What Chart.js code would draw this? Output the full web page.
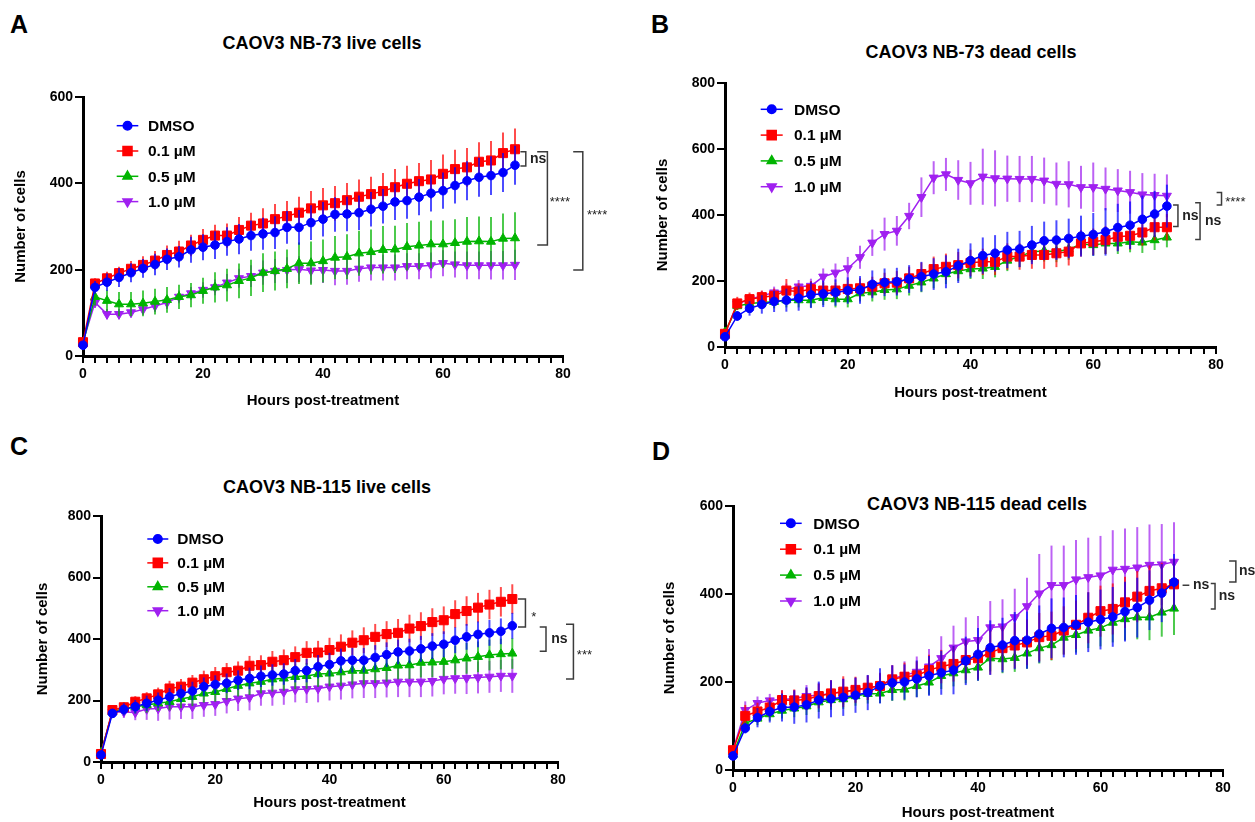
<!DOCTYPE html>
<html><head><meta charset="utf-8">
<script src="https://cdn.jsdelivr.net/npm/chart.js"></script>
<style>
html,body{margin:0;padding:0;background:#fff;}
body{width:1255px;height:822px;position:relative;overflow:hidden;font-family:"Liberation Sans",Arial,sans-serif;}
canvas{position:absolute;}
.letter{position:absolute;font-weight:bold;font-size:25px;line-height:28px;color:#000;}
.title{position:absolute;width:400px;text-align:center;font-weight:bold;font-size:18px;line-height:20px;color:#000;white-space:nowrap;}
</style></head><body>
<div class="letter" style="left:10px;top:10px">A</div>
<div class="letter" style="left:651px;top:10px">B</div>
<div class="letter" style="left:10px;top:432px">C</div>
<div class="letter" style="left:652px;top:437px">D</div>
<div class="title" style="left:122px;top:33px">CAOV3 NB-73 live cells</div>
<div class="title" style="left:771px;top:42px">CAOV3 NB-73 dead cells</div>
<div class="title" style="left:127px;top:477px">CAOV3 NB-115 live cells</div>
<div class="title" style="left:777px;top:494px">CAOV3 NB-115 dead cells</div>
<canvas id="cA" width="613" height="350" style="left:12px;top:60px"></canvas>
<canvas id="cB" width="601" height="342" style="left:654px;top:60px"></canvas>
<canvas id="cC" width="591" height="332" style="left:34px;top:480px"></canvas>
<canvas id="cD" width="594" height="342" style="left:661px;top:480px"></canvas>
<script>
// ---------- data ----------
const hours = [0,2,4,6,8,10,12,14,16,18,20,22,24,26,28,30,32,34,36,38,40,42,44,46,48,50,52,54,56,58,60,62,64,66,68,70,72];
const seriesLabels = ['DMSO','0.1 µM','0.5 µM','1.0 µM'];
const xMajorTicks = [0,20,40,60,80];
const panelTitles = ['CAOV3 NB-73 live cells','CAOV3 NB-73 dead cells','CAOV3 NB-115 live cells','CAOV3 NB-115 dead cells'];
const xAxisTitle = 'Hours post-treatment';
const yAxisTitle = 'Number of cells';

// Panel A: NB-73 live
const aDmso = [25,159,171,182,193,203,212,224,230,246,252,257,265,271,279,283,286,298,298,309,317,328,329,332,340,347,357,360,368,377,383,395,406,414,418,425,442];
const aDmsoErr = [10,15,20,22,22,22,25,25,25,30,30,32,33,35,35,37,38,38,40,40,40,40,40,40,40,40,42,42,42,42,42,42,45,45,45,45,45];
const aLow = [32,168,180,192,202,211,221,234,242,256,269,279,279,292,302,307,317,324,332,342,349,354,361,369,375,382,391,399,405,409,422,433,437,450,453,470,479];
const aLowErr = [8,12,15,15,18,20,22,22,25,25,25,25,28,30,30,35,35,35,37,40,40,40,40,40,40,42,42,42,42,45,45,45,45,45,45,48,48];
const aMid = [30,137,128,120,120,122,126,130,137,141,151,159,164,174,181,193,197,202,215,215,220,228,230,238,241,246,247,253,256,259,259,262,265,266,265,272,273];
const aMidErr = [10,20,25,28,28,30,30,30,28,28,30,35,38,40,42,45,45,45,48,50,50,50,52,52,52,55,55,55,55,55,55,55,57,57,57,58,60];
const aHigh = [33,124,97,97,101,108,116,124,137,145,153,159,170,180,185,193,197,199,201,198,199,197,197,202,205,205,205,208,208,210,215,212,210,210,210,210,211];
const aHighErr = [8,12,12,12,12,12,14,15,15,15,18,18,20,22,25,28,28,30,30,30,30,33,32,30,30,30,30,30,30,30,30,30,32,32,33,33,35];

// Panel B: NB-73 dead
const bDmso = [31,94,117,129,138,142,148,158,161,165,171,173,190,196,198,206,213,221,228,246,262,277,284,294,297,309,322,324,329,336,341,349,362,369,387,403,427];
const bDmsoErr = [10,15,22,28,32,35,38,40,40,40,40,42,42,42,42,42,45,48,50,52,52,55,55,55,55,58,58,60,60,62,65,72,72,72,72,70,65];
const bLow = [40,132,145,151,155,171,168,175,171,171,176,178,183,193,195,208,221,236,243,248,255,258,258,274,274,279,279,284,289,314,319,324,334,337,347,363,363];
const bLowErr = [10,20,20,20,22,35,25,25,25,25,28,30,30,32,35,35,35,38,40,40,40,40,40,40,40,42,42,42,42,40,40,42,42,42,40,40,40];
const bMid = [45,124,132,135,137,142,142,142,149,145,145,163,166,173,175,186,196,208,221,230,236,238,243,262,274,289,291,289,296,312,309,314,314,319,317,324,332];
const bMidErr = [10,12,15,18,20,22,22,22,22,25,25,25,28,30,30,30,30,30,30,30,30,32,32,32,32,32,32,32,32,32,32,32,32,32,32,30,30];
const bHigh = [40,130,145,155,165,172,183,185,213,225,238,272,316,342,352,397,454,513,523,506,496,516,511,510,509,509,504,494,493,484,484,479,474,469,462,460,458];
const bHighErr = [10,15,15,15,18,20,20,22,25,28,35,35,40,50,45,40,60,50,50,60,65,85,85,70,70,70,70,65,70,65,75,65,65,65,65,65,65];

// Panel C: NB-115 live
const cDmso = [23,158,171,180,191,201,212,223,231,245,252,256,266,272,279,283,286,297,297,310,317,329,331,331,340,349,358,361,368,377,383,396,407,415,420,425,443];
const cDmsoErr = [8,15,20,22,25,25,28,28,30,30,30,32,32,35,35,35,35,38,38,38,38,40,40,40,40,40,40,40,42,42,42,42,42,42,42,42,42];
const cLow = [26,169,178,196,207,220,239,245,258,269,279,292,297,313,315,326,331,341,355,356,364,375,388,396,407,416,420,434,442,455,461,481,491,502,512,521,530];
const cLowErr = [8,12,15,18,20,22,25,25,25,28,30,30,30,32,32,35,35,35,38,38,40,40,40,42,42,42,45,45,45,45,45,45,48,48,48,48,48];
const cMid = [30,163,174,180,185,191,196,205,212,223,228,238,248,256,261,269,272,277,280,286,288,292,297,297,302,306,314,315,323,324,326,331,337,342,348,351,353];
const cMidErr = [10,20,20,22,25,25,28,30,30,30,32,35,35,38,38,40,40,40,42,42,42,45,45,45,45,45,45,45,48,48,48,48,50,50,50,50,50];
const cHigh = [30,163,163,161,172,174,180,180,180,185,188,198,206,210,223,225,228,236,237,239,245,248,252,256,256,258,261,261,261,263,270,272,273,275,277,280,280];
const cHighErr = [8,20,20,25,35,40,42,40,40,38,38,40,40,42,40,42,42,42,45,45,45,45,45,48,48,48,50,50,50,50,50,50,52,52,52,52,55];

// Panel D: NB-115 dead
const dDmso = [32,95,119,133,142,143,148,159,162,165,170,176,191,198,200,207,214,221,227,248,263,278,284,294,295,309,322,324,330,336,342,348,360,369,386,402,427];
const dDmsoErr = [8,12,22,25,32,38,40,42,42,42,40,40,40,40,40,42,45,50,55,55,60,62,62,65,65,65,68,68,68,68,68,68,68,68,68,66,64];
const dLow = [45,123,133,142,159,158,161,168,174,178,182,187,191,206,212,215,227,235,241,250,254,267,277,283,290,302,305,317,330,346,361,366,381,394,407,413,422];
const dLowErr = [8,25,20,22,22,25,25,28,30,35,30,28,30,32,32,32,35,38,40,45,48,50,50,52,52,55,55,55,55,58,58,58,58,58,58,58,58];
const dMid = [35,106,117,127,135,140,145,154,159,161,168,173,174,182,183,191,199,214,220,227,233,254,252,255,265,277,284,301,307,317,323,335,343,347,347,358,367];
const dMidErr = [8,12,15,15,18,20,20,22,22,22,22,22,22,25,25,25,28,30,30,30,30,30,32,32,35,35,35,38,40,40,42,45,48,50,52,55,60];
const dHigh = [45,136,152,158,161,162,168,170,174,178,182,187,191,208,215,223,235,254,278,292,295,324,326,347,372,401,420,420,433,438,442,455,457,460,466,467,473];
const dHighErr = [8,20,15,15,20,20,25,28,30,30,28,28,28,30,32,35,40,50,50,55,55,60,62,65,65,90,90,90,90,90,90,90,92,92,92,92,90];

// significance annotations: [label, y top, y bottom]
const aSig = [['ns',473,440],['****',473,257],['****',473,199]];
const bSig = [['****',468,430],['ns',430,365],['ns',437,326]];
const cSig = [['*',530,439],['ns',439,360],['***',448,270]];
const dSig = [['ns',420,420],['ns',424,366],['ns',475,427]];

// ---------- styling ----------
const FONT = '"Liberation Sans", Arial, sans-serif';
const styles = [
  {color:'#0000ff', err:'rgba(0,0,255,0.7)', pointStyle:'circle', radius:4.3, rotation:0},
  {color:'#ff0000', err:'rgba(255,0,0,0.7)', pointStyle:'rect', radius:6.4, rotation:0},
  {color:'#00b400', err:'rgba(0,180,0,0.7)', pointStyle:'triangle', radius:5.2, rotation:0},
  {color:'#a020f0', err:'rgba(160,32,240,0.7)', pointStyle:'triangle', radius:5.2, rotation:180}
];

const errorBarPlugin = {
  id:'errorBars',
  beforeDatasetDraw(chart, args){
    const ds = chart.data.datasets[args.index];
    const ys = chart.scales.y, xs = chart.scales.x;
    const ctx = chart.ctx;
    ctx.save();
    ctx.strokeStyle = ds.errColor;
    ctx.lineWidth = 2;
    ds.data.forEach((pt, i) => {
      const e = ds.errors[i];
      const x = xs.getPixelForValue(pt.x);
      ctx.beginPath();
      ctx.moveTo(x, ys.getPixelForValue(pt.y + e));
      ctx.lineTo(x, ys.getPixelForValue(Math.max(0, pt.y - e)));
      ctx.stroke();
    });
    ctx.restore();
  }
};

const legendPlugin = {
  id:'innerLegend',
  afterDraw(chart){
    const o = chart.options.plugins.innerLegend;
    const ca = chart.chartArea, ctx = chart.ctx;
    ctx.save();
    chart.data.datasets.forEach((ds, i) => {
      const y = ca.top + o.y0 + i * o.gap;
      const st = styles[i];
      ctx.strokeStyle = st.color; ctx.fillStyle = st.color; ctx.lineWidth = 1.5;
      ctx.beginPath(); ctx.moveTo(ca.left + o.l0, y); ctx.lineTo(ca.left + o.l1, y); ctx.stroke();
      Chart.helpers.drawPoint(ctx, {pointStyle: st.pointStyle, radius: st.radius, rotation: st.rotation, borderWidth: 1}, ca.left + (o.l0 + o.l1) / 2, y);
      ctx.fillStyle = '#000';
      ctx.font = 'bold 15.5px ' + FONT;
      ctx.textBaseline = 'middle'; ctx.textAlign = 'left';
      ctx.fillText(ds.label, ca.left + o.tx, y + 1);
    });
    ctx.restore();
  }
};

const bracketPlugin = {
  id:'brackets',
  afterDraw(chart){
    const o = chart.options.plugins.brackets;
    const xs = chart.scales.x, ys = chart.scales.y, ctx = chart.ctx;
    ctx.save();
    o.items.forEach((b, k) => {
      const pos = o.pos[k];
      const x0 = xs.getPixelForValue(pos[0]), x1 = xs.getPixelForValue(pos[1]), xt = xs.getPixelForValue(pos[2]);
      const y1 = ys.getPixelForValue(b[1]), y2 = ys.getPixelForValue(b[2]);
      ctx.strokeStyle = '#3c3c3c'; ctx.lineWidth = 1.5;
      ctx.beginPath();
      ctx.moveTo(x0, y1); ctx.lineTo(x1, y1); ctx.lineTo(x1, y2); ctx.lineTo(x0, y2);
      ctx.stroke();
      const isStar = b[0].indexOf('*') >= 0;
      ctx.fillStyle = '#222';
      ctx.font = isStar ? '13px ' + FONT : 'bold 14px ' + FONT;
      ctx.textBaseline = 'middle'; ctx.textAlign = 'left';
      ctx.fillText(b[0], xt, (y1 + y2) / 2 + (isStar ? 4 : 0));
    });
    ctx.restore();
  }
};

function makePanel(id, series, yMax, lay, leg, sig, sigPos){
  const datasets = series.map((s, i) => ({
    label: seriesLabels[i],
    data: hours.map((h, j) => ({x: h, y: s[0][j]})),
    errors: s[1],
    errColor: styles[i].err,
    borderColor: styles[i].color,
    backgroundColor: styles[i].color,
    borderWidth: 1.5,
    pointStyle: styles[i].pointStyle,
    pointRadius: styles[i].radius,
    pointRotation: styles[i].rotation,
    pointBorderWidth: 1,
    tension: 0,
    clip: false
  }));
  new Chart(document.getElementById(id), {
    type:'line',
    data:{datasets},
    options:{
      responsive:false, animation:false, events:[],
      layout:{padding:{top:lay.pt, right:lay.pr, bottom:0, left:0}},
      plugins:{
        legend:{display:false}, title:{display:false}, tooltip:{enabled:false},
        innerLegend: leg,
        brackets:{items:sig, pos:sigPos}
      },
      scales:{
        x:{type:'linear', min:0, max:80,
           afterFit(s){ s.height = lay.xh; },
           ticks:{stepSize:2, autoSkip:false, maxRotation:0, color:'#000', padding:3,
                  font:{family:FONT, size:14, weight:'bold'},
                  callback:(v) => xMajorTicks.includes(v) ? String(v) : ''},
           grid:{display:true, drawOnChartArea:false, drawTicks:true, tickLength:7, color:'#000', lineWidth:2},
           border:{display:true, color:'#000', width:3},
           title:{display:true, text:xAxisTitle, color:'#000', padding:0, font:{family:FONT, size:15, weight:'bold'}}},
        y:{min:0, max:yMax,
           afterFit(s){ s.width = lay.yw; },
           ticks:{stepSize:200, color:'#000', padding:2, font:{family:FONT, size:14, weight:'bold'}},
           grid:{display:true, drawOnChartArea:false, drawTicks:true, tickLength:8, color:'#000', lineWidth:2},
           border:{display:true, color:'#000', width:3},
           title:{display:true, text:yAxisTitle, color:'#000', padding:0, font:{family:FONT, size:15, weight:'bold'}}}
      }
    },
    plugins:[errorBarPlugin, legendPlugin, bracketPlugin]
  });
}

makePanel('cA', [[aDmso,aDmsoErr],[aLow,aLowErr],[aMid,aMidErr],[aHigh,aHighErr]], 600,
  {pt:37, pr:62, xh:54, yw:71},
  {l0:33.7, l1:55.3, tx:65, y0:28.7, gap:25.3},
  aSig, [[72.9,73.8,74.5],[75.7,77.4,77.8],[81.7,83.3,84]]);
makePanel('cB', [[bDmso,bDmsoErr],[bLow,bLowErr],[bMid,bMidErr],[bHigh,bHighErr]], 800,
  {pt:23, pr:39, xh:55, yw:71},
  {l0:35.7, l1:57.7, tx:69, y0:26.3, gap:25.8},
  bSig, [[80.1,80.9,81.5],[73.0,73.8,74.5],[76.6,77.4,78.2]]);
makePanel('cC', [[cDmso,cDmsoErr],[cLow,cLowErr],[cMid,cMidErr],[cHigh,cHighErr]], 800,
  {pt:36, pr:67, xh:50, yw:67},
  {l0:46.3, l1:67.3, tx:76.3, y0:23, gap:23.9},
  cSig, [[73.0,74.3,75.3],[76.8,77.9,78.8],[81.4,82.7,83.3]]);
makePanel('cD', [[dDmso,dDmsoErr],[dLow,dLowErr],[dMid,dMidErr],[dHigh,dHighErr]], 600,
  {pt:26, pr:32, xh:52, yw:72},
  {l0:47, l1:68.7, tx:80.3, y0:17.3, gap:25.9},
  dSig, [[73.4,74.5,75.1],[78.0,78.7,79.3],[81.0,82.1,82.6]]);
</script>
</body></html>
